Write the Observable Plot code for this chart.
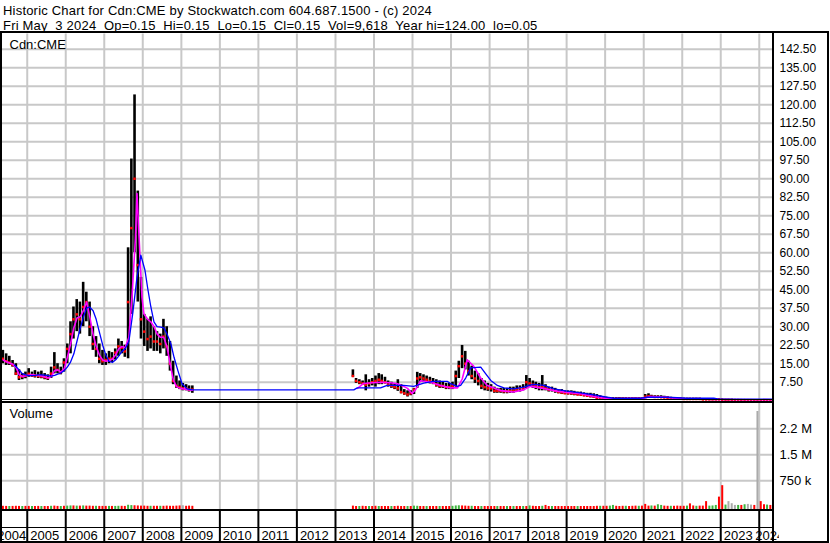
<!DOCTYPE html>
<html><head><meta charset="utf-8">
<script src="https://cdn.jsdelivr.net/npm/d3@7"></script>
<script src="https://cdn.jsdelivr.net/npm/@observablehq/plot@0.6"></script>
<style>
body{margin:0;background:#fff;}
#wrap{position:relative;width:830px;height:543px;overflow:hidden;font-family:"Liberation Sans",Arial,sans-serif;background:#fff;}
#wrap svg{position:absolute;left:0;top:0;}
.hdr{position:absolute;left:3px;font-size:13px;letter-spacing:0.2px;line-height:15px;white-space:pre;color:#000;}
.ln{position:absolute;background:#000;z-index:5;}
</style></head><body>
<div id="wrap">
  <div class="hdr" style="top:2.5px">Historic Chart for Cdn:CME by Stockwatch.com 604.687.1500 - (c) 2024</div>
  <div class="hdr" style="top:17.5px">Fri May  3 2024  Op=0.15  Hi=0.15  Lo=0.15  Cl=0.15  Vol=9,618  Year hi=124.00  lo=0.05</div>
  <div class="ln" style="left:0;top:31px;width:829px;height:512px;background:none;border:2px solid #000;box-sizing:border-box"></div>
  <div class="ln" style="left:772px;top:31px;width:2px;height:512px"></div>
  <div class="ln" style="left:0;top:399px;width:773px;height:1px"></div>
  <div class="ln" style="left:0;top:401px;width:773px;height:2px"></div>
  <div class="ln" style="left:0;top:509px;width:773px;height:2px"></div>
  <div class="ln" style="left:0;top:527px;width:773px;height:1px"></div>
</div>
<script>
// ---------- data ----------
const years = d3.range(2004, 2025);                       // axis year labels
const priceTicks = [7.5,15,22.5,30,37.5,45,52.5,60,67.5,75,82.5,90,97.5,105,112.5,120,127.5,135,142.5];
const volTicks = [750, 1500, 2250];                        // thousands
const volTickLabels = ["750 k", "1.5 M", "2.2 M"];

// segment 1: monthly bars May 2004 .. Apr 2009
const seg1Start = [2004, 5];
const hi1 = [20.4,19,18,16.3,15,12.5,11,11.6,
  13,11.6,12.2,11.6,12,11,10.5,13.6,19.5,15,13.6,17,
  23,32,38,41,40,48,44,40,30,26,23,20.4,
  19,20,19.5,21,25,24,22.5,62,98,124,85,50,
  35,33,34,30,28,27,33,30,24,16,10,8,
  7,6.5,6,6];
const lo1 = [15,14.3,14.3,13.6,10.2,8.2,8.5,8.9,
  9.5,9.5,9.2,9,8.9,8.5,8.2,9,10.9,10.9,10.5,11.6,
  15,19,25,28,27,30,32,26,20.4,17.6,15,14.3,
  14.3,15,15.5,16.5,18,19,17.6,17,35,60,40,25,
  22,20,21,20,20,19,21,18,12,6.5,5,4.5,
  4,4,3.5,3];
const cl1 = [17,16,15.5,14.5,11,9.5,9.8,10.2,
  10.9,10.2,10.2,10,9.8,9.5,9.2,11,13.5,12.5,11.5,15.5,
  21,27,33,35,33,38,40,30,23,21,17,16,
  16.5,17,17,19.5,22,21.5,20,40,70,90,55,33,
  28,25,26,24,24,23,26,22,15,8,6,5.5,
  5,5,4.5,4.5];
const vol1 = [15,12,10,12,15,12,10,12,
  12,10,10,12,10,10,10,15,20,12,10,15,
  20,25,25,20,20,25,20,20,15,15,12,12,
  12,12,12,12,15,15,12,45,35,30,25,20,
  20,15,15,15,15,15,15,20,15,15,20,25,
  30,15,20,15];
const volCol1 = "rrgrrrgr"+"rgrrgrrgrrgr"+"ggrgrgrrrgrr"+"rgrggrrggrrr"+"rrgrrgrrrrrr"+"nrrr";

// segment 2: monthly bars Jun 2013 .. Apr 2024
const seg2Start = [2013, 6];
const hi2 = [12.5,9,8.5,8,10.5,8.5,9,
  10,11,10.5,9.5,8,7.5,7,8.5,6.5,4.5,4,4,
  5,11.5,11,10.5,10,9.5,9,8.5,8,7.5,7,7,
  7.5,12,16,22.4,20,16,14,12,11,9,8,7,
  6.5,5.5,5,5,5,5,5.5,5.5,6,6,6.5,10.2,
  9,8,7.5,7,10.2,6.5,5.5,5.5,5,4.5,4.5,4,
  4,4,3.8,3.5,3.5,3.2,3,3,2.8,2.5,2,1.6,
  1.4,1.3,1.3,1.3,1.3,1.2,1.2,1.2,1.2,1.2,1.2,1.3,
  2.5,2.8,2.2,2,2,2,1.8,1.6,1.4,1.3,1.2,1.1,
  1,1,1,1,1,1,0.9,0.9,0.9,0.9,0.9,0.8,
  0.7,0.6,0.6,0.6,0.5,0.5,0.5,0.5,0.4,0.4,0.4,0.4,
  0.35,0.3,0.3,0.25];
const lo2 = [9.5,7,6.5,6.5,4,5.5,6,
  5.5,6.5,6.5,6.8,5.5,5,4.5,3.8,2.8,2.2,1.5,2,
  2.5,5,7.5,7.5,7,6.8,6.5,5.5,5,5,4.5,4.5,
  4.5,5.5,9,13,12.5,10,8.5,7,6,4.5,4,3.8,
  3.5,3,3,3,2.8,2.8,3,3,3.5,3.5,4,5,
  5.5,5,4.5,4,4,4,3.5,3.5,3,2.8,2.5,2.5,
  2.3,2.2,2,2,1.8,1.6,1.4,1.2,1,0.6,0.5,0.4,
  0.5,0.6,0.5,0.6,0.6,0.6,0.6,0.6,0.6,0.6,0.6,0.6,
  0.8,1,1,1,1,1,0.9,0.8,0.7,0.6,0.5,0.5,
  0.4,0.4,0.4,0.4,0.4,0.4,0.3,0.3,0.3,0.3,0.3,0.3,
  0.2,0.2,0.15,0.15,0.1,0.1,0.1,0.1,0.1,0.1,0.05,0.05,
  0.05,0.05,0.05,0.05];
const cl2 = [10,8,7.5,7,6.5,7,7.5,
  8,8.5,8,7.5,6.5,6,5.5,5,3.5,3,2.5,3,
  4.5,9,9.5,9,8.5,8,7.5,6.5,6,6,5.5,5.5,
  6,10,14,18,15,12,10,9,8,6,5.5,5,
  5,4,4,4,3.8,3.8,4,4.2,4.5,5,5,7.5,
  7,6.5,6,5.5,5.5,5,4.5,4.5,4,3.5,3.3,3,
  3,3,2.8,2.5,2.4,2.2,2,1.8,1.6,1.2,1,0.8,
  0.9,0.9,0.8,0.9,0.9,0.9,0.9,0.9,0.9,0.9,0.9,1,
  1.6,1.8,1.6,1.5,1.5,1.4,1.3,1.2,1,0.9,0.8,0.8,
  0.7,0.7,0.7,0.7,0.7,0.7,0.5,0.5,0.5,0.5,0.5,0.5,
  0.35,0.3,0.3,0.3,0.25,0.25,0.2,0.2,0.2,0.2,0.15,0.15,
  0.15,0.15,0.15,0.15];
const vol2 = [20,10,10,15,10,10,10,
  15,10,10,10,10,10,10,15,10,10,10,10,
  20,15,10,10,10,10,10,10,10,10,10,10,
  15,25,30,25,20,15,15,10,10,10,10,10,
  10,10,10,10,10,10,10,10,10,10,10,10,
  25,15,10,10,15,40,10,10,10,10,10,10,
  10,10,10,10,10,10,10,10,10,15,15,15,
  15,20,40,15,10,15,15,10,15,20,15,20,
  70,20,25,20,60,40,20,15,15,15,20,15,
  15,20,85,25,15,20,20,150,20,25,40,280,
  610,50,150,90,40,40,40,60,70,50,40,2750,
  150,60,50,40];
const volCol2 = "rrgrrgr"+"rgrrrgrrrrgr"+"ggrrgrrrgrrr"+"gggrrrgrrgrr"+"rrgrrgrgrrgr"+"grrrgrrgrrrr"+
  "rrrgrrrrrrgr"+"rggrrrgrrrgr"+"rrgrggrrgrrr"+"rgrrgrrrgggr"+"rgnnngrgnnrn"+"rrgr";

// moving averages: [decimal year, value]
const magenta1 = [[2004.375,16.5],[2004.458,15.8],[2004.542,15.3],[2004.625,14.8],[2004.708,13.5],[2004.792,10.5],[2004.875,9.8],[2004.958,10],
 [2005.042,10.4],[2005.125,10.6],[2005.208,10.3],[2005.292,10.2],[2005.375,10],[2005.458,9.6],[2005.542,9.2],[2005.625,9.8],[2005.708,12.2],[2005.792,12.5],[2005.875,11.6],[2005.958,12.9],
 [2006.042,17.6],[2006.125,23],[2006.208,29.5],[2006.292,33.5],[2006.375,34],[2006.458,36.5],[2006.542,40],[2006.625,34],[2006.708,27],[2006.792,22],[2006.875,18.5],[2006.958,16.5],
 [2007.042,16],[2007.125,16.3],[2007.208,16.8],[2007.292,18.5],[2007.375,21],[2007.458,22],[2007.542,21.5],[2007.64,25.7],[2007.725,43.3],[2007.81,66],[2007.85,84],[2007.94,54.5],[2007.98,42],
 [2008.03,35.2],[2008.125,33],[2008.208,32],[2008.292,30],[2008.375,27],[2008.458,25.7],[2008.542,25.7],[2008.625,22],[2008.708,15],[2008.792,8.4],[2008.875,5.7],[2008.958,5.1],
 [2009.042,4.8],[2009.125,4.6],[2009.208,4.4],[2009.292,4.3]];
const magenta2 = [[2013.57,5],[2013.73,7],[2013.96,7.3],[2014.17,7.5],[2014.43,7.3],[2014.61,6.9],[2014.77,5.8],[2014.87,5],[2014.99,2.9],
 [2015.08,4.5],[2015.21,8.1],[2015.47,7.5],[2015.73,6.2],[2015.99,5.2],[2016.17,5.2],[2016.29,8.8],[2016.42,16.6],[2016.59,13.9],[2016.77,9.2],[2016.94,6.2],
 [2017.29,4.1],[2017.62,3.5],[2017.88,4.4],[2018.06,5.8],[2018.32,5.2],[2018.66,4.1],[2019.01,3.3],[2019.36,2.8],[2019.70,1.7],[2020.06,0.8],[2020.40,0.8],
 [2021.0,1],[2021.18,1.7],[2021.57,1.4],[2021.96,0.8],[2022.82,0.5],[2024.34,0.4]];
const blueLine = [[2004.67,14.5],[2004.79,12.5],[2004.87,11],[2004.96,10.5],[2005.04,10.2],[2005.12,10.2],[2005.21,10.3],[2005.29,10.5],[2005.37,10.5],[2005.46,10.4],[2005.54,10.2],[2005.62,10],[2005.71,10.3],[2005.79,10.8],[2005.87,11.2],[2005.96,12.2],
 [2006.04,13.6],[2006.12,15.5],[2006.21,19],[2006.29,24],[2006.37,29],[2006.46,34],[2006.54,37.5],[2006.62,38],[2006.71,36.5],[2006.79,33],[2006.87,28],[2006.96,22.5],
 [2007.04,18.5],[2007.12,16],[2007.21,15.5],[2007.29,16.5],[2007.37,18],[2007.46,20],[2007.54,21],[2007.64,24],[2007.745,36],[2007.85,50],[2007.95,59],
 [2008.056,53],[2008.134,45],[2008.21,38],[2008.29,32],[2008.37,30],[2008.47,29.8],[2008.55,29.5],[2008.63,27],[2008.73,23],[2008.81,17.6],[2008.91,12.2],
 [2009.02,6.8],[2009.15,4.8],[2009.30,4.4],[2013.476,4.4],[2013.565,5.2],[2014.17,5.2],[2014.34,6.2],[2014.77,6.2],[2015.03,5.8],[2015.29,7.1],[2015.545,7.8],[2015.91,7.8],[2015.99,6.9],
 [2016.16,5.8],[2016.25,6.2],[2016.38,9.2],[2016.51,13.3],[2016.77,13.6],[2016.90,10.9],[2017.03,8.2],[2017.20,6.2],[2017.37,5.2],[2017.63,4.8],[2017.89,5.5],
 [2018.02,6.2],[2018.15,6.6],[2018.41,6.2],[2018.67,4.8],[2019.01,3.9],[2019.36,3.2],[2019.71,2.4],[2020.05,1.4],[2020.22,1],[2020.92,1],[2021.09,1.4],[2021.61,1.4],
 [2022.13,1],[2022.82,1],[2022.95,0.6],[2024.34,0.6]];

// ---------- helpers ----------
function dec(d){const y=Math.floor(d),s=Date.UTC(y,0,1),e=Date.UTC(y+1,0,1);return new Date(s+(d-y)*(e-s));}
function monthDates(start,n){return d3.range(n).map(i=>{const m=start[1]-1+i;return new Date(Date.UTC(start[0]+Math.floor(m/12),m%12,15));});}
function build(start,hi,lo,cl,vol,col){const ds=monthDates(start,hi.length);
  return ds.map((date,i)=>({date,hi:hi[i],lo:lo[i],cl:cl[i],vol:vol[i],col:col[i]}));}
const bars = build(seg1Start,hi1,lo1,cl1,vol1,volCol1).concat(build(seg2Start,hi2,lo2,cl2,vol2,volCol2));
const pts = a=>a.map(([d,v])=>({date:dec(d),v}));
const yearDates = years.slice(1).map(y=>new Date(Date.UTC(y,0,1)));
const colMap = {r:"#ff0000",g:"#3cb43c",n:"#aaaaaa"};

const X0 = dec(2004.359), X1 = dec(2024.343);
const W = 830, H = 543;
const st = {background:"transparent",fontFamily:"'Liberation Sans',Arial,sans-serif",fontSize:"12px",color:"#000",overflow:"visible"};
const grid = "#c8c8c8";

const pricePlot = Plot.plot({
  width:W,height:H,marginTop:33.5,marginBottom:H-400.2,marginLeft:2,marginRight:58,
  x:{type:"utc",domain:[X0,X1],axis:null},
  y:{domain:[0,148.7],axis:null},
  style:st,
  marks:[
    Plot.ruleY(priceTicks,{stroke:grid,strokeWidth:2}),
    Plot.ruleX(yearDates,{stroke:grid,strokeWidth:2}),
    Plot.ruleX(bars,{x:"date",y1:"lo",y2:"hi",stroke:"#000",strokeWidth:2.6}),
    Plot.dot(bars,{x:"date",y:"cl",r:1.4,symbol:"square",fill:"#ff0000",stroke:null}),
    Plot.line(pts(magenta1),{x:"date",y:"v",stroke:"#ff00ff",strokeWidth:1.6}),
    Plot.line(pts(magenta2),{x:"date",y:"v",stroke:"#ff00ff",strokeWidth:1.6}),
    Plot.line(pts(blueLine),{x:"date",y:"v",stroke:"#0000ff",strokeWidth:1.3}),
    Plot.axisY(priceTicks,{anchor:"right",label:null,tickSize:0,tickPadding:7,tickFormat:d=>d.toFixed(2),fontSize:12,fill:"#000"}),
    Plot.text(["Cdn:CME"],{frameAnchor:"top-left",dx:7,dy:6,lineAnchor:"top",fontSize:13,fill:"#000"})
  ]
});

const volPlot = Plot.plot({
  width:W,height:H,marginTop:403,marginBottom:H-509.3,marginLeft:2,marginRight:58,
  x:{type:"utc",domain:[X0,X1],axis:null},
  y:{domain:[-86,2980],axis:null},
  style:st,
  marks:[
    Plot.ruleY(volTicks,{stroke:grid,strokeWidth:2}),
    Plot.ruleX(yearDates,{stroke:grid,strokeWidth:2}),
    Plot.ruleX(bars,{x:"date",y1:-86,y2:"vol",stroke:d=>colMap[d.col],strokeWidth:2}),
    Plot.axisY(volTicks,{anchor:"right",label:null,tickSize:0,tickPadding:7,tickFormat:d=>volTickLabels[volTicks.indexOf(d)],fontSize:13,fill:"#000"}),
    Plot.text(["Volume"],{frameAnchor:"top-left",dx:7,dy:5.3,lineAnchor:"top",fontSize:13,fill:"#000"})
  ]
});

const XA1 = dec(2024.52);
const labels = years.map((y,i)=>({
  x:new Date(Date.UTC(i===0?y+1:y,0,1)), t:String(y),
  kind: i===0 ? "first" : (i===years.length-1 ? "last" : "mid")
}));
const lab = (kind,dx,anchor)=>Plot.text(labels.filter(d=>d.kind===kind),{x:"x",text:"t",frameAnchor:"bottom",dy:-6,dx,textAnchor:anchor,lineAnchor:"middle",fontSize:13,fill:"#000",clip:true});
const axisPlot = Plot.plot({
  width:W,height:H,marginTop:511,marginBottom:2,marginLeft:2,marginRight:W-2-(772-2)*(2024.52-2004.359)/(2024.343-2004.359),
  x:{type:"utc",domain:[X0,XA1],axis:null},
  y:{domain:[0,1],axis:null},
  style:st,
  marks:[
    Plot.ruleX(yearDates,{stroke:"#000",strokeWidth:2}),
    lab("mid",3,"start"),
    lab("first",-1,"end"),
    lab("last",-4,"start")
  ]
});

const wrap = document.getElementById("wrap");
wrap.insertBefore(axisPlot, wrap.firstChild);
wrap.insertBefore(volPlot, wrap.firstChild);
wrap.insertBefore(pricePlot, wrap.firstChild);
</script>
</body></html>
